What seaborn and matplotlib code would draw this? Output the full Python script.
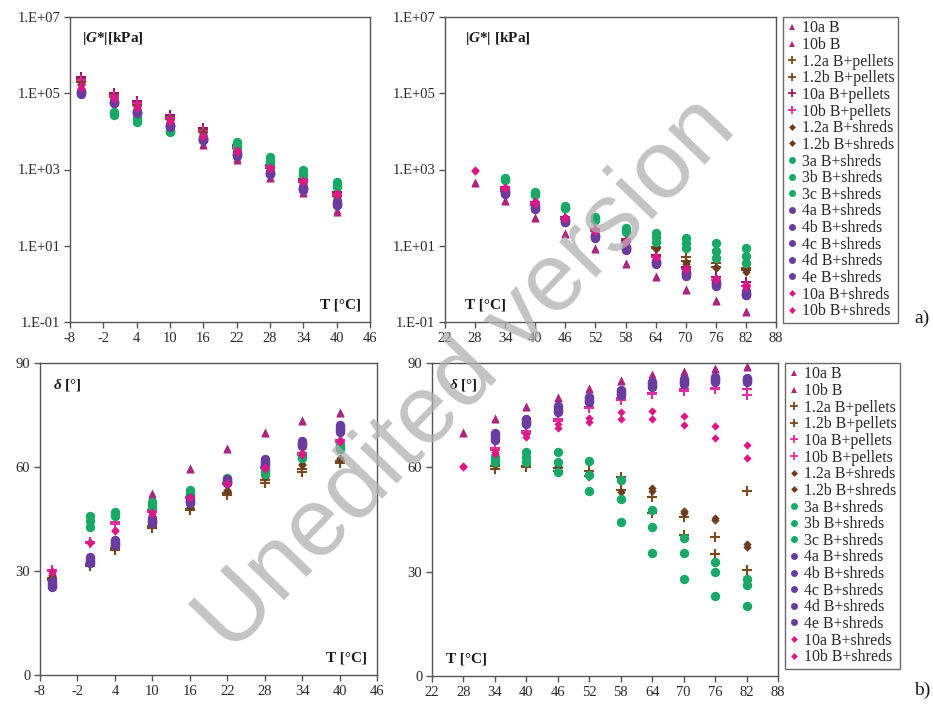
import numpy as np
import pandas as pd
import matplotlib
matplotlib.use("Agg")
import matplotlib.pyplot as plt
import seaborn as sns
from matplotlib.lines import Line2D
from matplotlib.ticker import FixedLocator, FuncFormatter, NullLocator

nan = np.nan

SERIES = [
    "10a B", "10b B",
    "1.2a B+pellets", "1.2b B+pellets", "10a B+pellets", "10b B+pellets",
    "1.2a B+shreds", "1.2b B+shreds",
    "3a B+shreds", "3b B+shreds", "3c B+shreds",
    "4a B+shreds", "4b B+shreds", "4c B+shreds", "4d B+shreds", "4e B+shreds",
    "10a B+shreds", "10b B+shreds",
]

# test temperatures [°C]
T_LOW = [-6, 0, 4, 10, 16, 22, 28, 34, 40]
T_HIGH = [28, 34, 40, 46, 52, 58, 64, 70, 76, 82]

# |G*| [kPa], low-temperature range
G_LOW = {
    "10a B":          [nan, nan, nan, 1.1e4, 4.4e3, 1.8e3, 600, 240, 76],
    "10b B":          [nan, nan, nan, 1.2e4, 4.8e3, 2.0e3, 650, 260, 85],
    "1.2a B+pellets": [2.4e5, 9.5e4, 5.8e4, 2.5e4, 1.1e4, 4.2e3, 1.2e3, 520, 230],
    "1.2b B+pellets": [2.0e5, 8.0e4, 5.0e4, 2.1e4, 9.5e3, 3.6e3, 1.1e3, 460, 200],
    "10a B+pellets":  [2.7e5, 1.0e5, 6.3e4, 2.7e4, 1.2e4, 4.5e3, 1.3e3, 560, 250],
    "10b B+pellets":  [2.2e5, 8.5e4, 5.4e4, 2.3e4, 1.0e4, 3.9e3, 1.15e3, 500, 220],
    "1.2a B+shreds":  [1.8e5, 7.5e4, 4.6e4, 2.0e4, 9.0e3, 3.4e3, 1.0e3, 430, 190],
    "1.2b B+shreds":  [1.7e5, 7.0e4, 4.4e4, 1.9e4, 8.5e3, 3.3e3, 950, 410, 180],
    "3a B+shreds":    [nan, 3.3e4, 2.2e4, 1.05e4, 7.0e3, 5.2e3, 2.1e3, 950, 470],
    "3b B+shreds":    [nan, 3.0e4, 2.0e4, 1.0e4, 6.5e3, 4.7e3, 1.8e3, 830, 400],
    "3c B+shreds":    [nan, 2.7e4, 1.8e4, 9.5e3, 6.0e3, 4.2e3, 1.55e3, 720, 350],
    "4a B+shreds":    [1.1e5, 6.0e4, 3.3e4, 1.45e4, 6.5e3, 2.6e3, 820, 330, 135],
    "4b B+shreds":    [1.0e5, 5.6e4, 3.1e4, 1.35e4, 6.0e3, 2.4e3, 760, 300, 120],
    "4c B+shreds":    [1.15e5, 6.3e4, 3.5e4, 1.5e4, 6.8e3, 2.8e3, 870, 350, 145],
    "4d B+shreds":    [1.05e5, 5.8e4, 3.2e4, 1.4e4, 6.2e3, 2.5e3, 790, 310, 125],
    "4e B+shreds":    [9.8e4, 5.4e4, 3.0e4, 1.3e4, 5.8e3, 2.3e3, 740, 290, 115],
    "10a B+shreds":   [1.6e5, 8.0e4, 4.5e4, 2.0e4, 8.0e3, 3.2e3, 1.15e3, 520, 240],
    "10b B+shreds":   [1.4e5, 7.0e4, 4.0e4, 1.8e4, 7.2e3, 2.9e3, 1.05e3, 470, 220],
}

# |G*| [kPa], high-temperature range
G_HIGH = {
    "10a B":          [470, 160, 56, 21, 8.7, 3.5, 1.6, 0.72, 0.37, 0.19],
    "10b B":          [440, 150, 52, 20, 8.2, 3.3, 1.5, 0.68, 0.35, 0.18],
    "1.2a B+pellets": [nan, 300, 130, 55, 28, 15, 9.5, 5.2, 3.5, 2.6],
    "1.2b B+pellets": [nan, 280, 120, 50, 25, 13, 8.5, 4.0, 2.8, 2.3],
    "10a B+pellets":  [nan, 340, 140, 56, 26, 14, 5.6, 2.8, 1.5, 1.1],
    "10b B+pellets":  [nan, 320, 130, 52, 24, 12.5, 5.0, 2.5, 1.3, 0.9],
    "1.2a B+shreds":  [nan, 290, 125, 52, 26, 14, 8.7, 3.7, 2.8, 2.3],
    "1.2b B+shreds":  [nan, 270, 115, 48, 24, 13, 8.0, 3.4, 2.6, 2.1],
    "3a B+shreds":    [nan, 600, 250, 110, 57, 30, 21, 16, 12, 8.7],
    "3b B+shreds":    [nan, 560, 235, 100, 50, 26, 17, 12, 7.4, 5.5],
    "3c B+shreds":    [nan, 520, 220, 95, 46, 23, 12.6, 8.7, 4.7, 3.5],
    "4a B+shreds":    [nan, 260, 105, 46, 18, 8.8, 3.8, 1.9, 1.05, 0.58],
    "4b B+shreds":    [nan, 240, 98, 43, 17, 8.2, 3.5, 1.75, 0.95, 0.52],
    "4c B+shreds":    [nan, 275, 112, 49, 19.5, 9.5, 4.1, 2.1, 1.15, 0.64],
    "4d B+shreds":    [nan, 250, 100, 44, 17.5, 8.5, 3.6, 1.8, 1.0, 0.55],
    "4e B+shreds":    [nan, 230, 94, 41, 16, 7.8, 3.3, 1.65, 0.9, 0.5],
    "10a B+shreds":   [960, 350, 145, 58, 27, 14.5, 5.3, 2.6, 1.4, 1.0],
    "10b B+shreds":   [900, 310, 128, 50, 23, 12, 4.7, 2.3, 1.25, 0.85],
}

# phase angle δ [°], low-temperature range
D_LOW = {
    "10a B":          [nan, nan, nan, 52.5, 59.7, 65.5, 70.1, 73.5, 75.9],
    "10b B":          [nan, nan, nan, 52.0, 59.3, 65.2, 69.8, 73.2, 75.5],
    "1.2a B+pellets": [27.5, 31.4, 36.0, 42.4, 47.6, 51.9, 55.4, 58.6, 61.1],
    "1.2b B+pellets": [28.0, 32.0, 36.5, 43.0, 48.0, 52.5, 56.2, 59.5, 61.8],
    "10a B+pellets":  [30.3, 38.4, 44.0, 47.6, 51.4, 55.4, 60.0, 64.0, 67.8],
    "10b B+pellets":  [30.0, 38.0, 43.5, 47.0, 51.0, 55.0, 59.6, 63.6, 67.3],
    "1.2a B+shreds":  [28.5, 32.5, 37.0, 43.5, 48.5, 53.0, 57.0, 60.6, 62.0],
    "1.2b B+shreds":  [28.8, 33.0, 37.5, 44.0, 49.0, 53.5, 57.5, 61.0, 62.5],
    "3a B+shreds":    [nan, 46.0, 47.0, 50.0, 53.4, 56.8, 59.1, 63.5, 66.3],
    "3b B+shreds":    [nan, 44.5, 46.5, 49.2, 52.6, 56.2, 58.6, 63.0, 65.8],
    "3c B+shreds":    [nan, 42.8, 46.0, 48.4, 52.0, 55.7, 58.0, 62.5, 65.2],
    "4a B+shreds":    [26.5, 33.5, 38.4, 44.7, 50.5, 56.0, 61.7, 66.9, 71.5],
    "4b B+shreds":    [25.8, 32.5, 37.5, 44.0, 49.8, 55.5, 61.0, 66.3, 70.6],
    "4c B+shreds":    [27.2, 34.0, 38.8, 45.2, 51.0, 56.5, 62.2, 67.5, 72.2],
    "4d B+shreds":    [26.0, 33.0, 38.0, 44.4, 50.2, 55.8, 61.4, 66.6, 71.0],
    "4e B+shreds":    [25.5, 32.3, 37.5, 43.8, 49.6, 55.3, 60.8, 66.0, 70.2],
    "10a B+shreds":   [30.0, 38.4, 41.8, 47.0, 51.4, 55.4, 60.0, 64.0, 67.8],
    "10b B+shreds":   [29.5, 38.0, 41.5, 46.5, 51.0, 55.0, 59.5, 63.6, 67.2],
}

# phase angle δ [°], high-temperature range
D_HIGH = {
    "10a B":          [70.2, 74.3, 77.7, 80.3, 82.7, 85.1, 86.7, 87.8, 88.7, 89.1],
    "10b B":          [70.0, 74.0, 77.4, 80.0, 82.4, 84.8, 86.4, 87.5, 88.4, 88.8],
    "1.2a B+pellets": [nan, 59.5, 60.0, 59.8, 59.0, 57.3, 51.6, 45.6, 39.9, 30.5],
    "1.2b B+pellets": [nan, 60.5, 60.5, 59.0, 57.5, 53.5, 46.8, 40.5, 35.0, 53.2],
    "10a B+pellets":  [nan, 65.5, 70.5, 74.0, 77.4, 80.0, 81.3, 82.4, 82.9, 82.4],
    "10b B+pellets":  [nan, 65.0, 70.0, 73.2, 77.0, 79.5, 81.0, 82.0, 82.4, 80.8],
    "1.2a B+shreds":  [nan, 61.0, 61.5, 60.5, 58.5, 56.5, 54.0, 47.5, 45.5, 38.0],
    "1.2b B+shreds":  [nan, 60.8, 61.2, 60.0, 58.0, 53.0, 53.2, 46.8, 44.8, 37.2],
    "3a B+shreds":    [nan, 63.0, 64.5, 64.5, 61.9, 56.4, 47.8, 39.6, 32.9, 27.8],
    "3b B+shreds":    [nan, 62.3, 63.0, 61.6, 57.8, 50.8, 42.8, 35.3, 30.0, 26.2],
    "3c B+shreds":    [nan, 61.6, 61.6, 58.7, 53.3, 44.2, 35.3, 27.8, 23.1, 20.1],
    "4a B+shreds":    [nan, 69.5, 73.5, 77.0, 79.8, 82.0, 84.2, 85.1, 85.8, 85.3],
    "4b B+shreds":    [nan, 68.5, 72.8, 76.2, 79.0, 81.2, 83.5, 84.3, 85.0, 84.8],
    "4c B+shreds":    [nan, 70.0, 74.0, 77.5, 80.2, 82.3, 84.5, 85.5, 86.0, 85.6],
    "4d B+shreds":    [nan, 68.0, 72.5, 76.0, 78.8, 80.8, 83.2, 83.9, 84.6, 84.6],
    "4e B+shreds":    [nan, 69.0, 73.1, 76.6, 79.4, 81.5, 83.8, 84.6, 85.3, 85.0],
    "10a B+shreds":   [60.4, 64.5, 69.5, 72.5, 74.2, 76.0, 76.2, 74.8, 71.9, 66.4],
    "10b B+shreds":   [60.2, 63.8, 68.8, 71.3, 73.1, 73.8, 73.8, 72.2, 68.5, 62.6],
}

X_TICKS_LOW = [-8, -2, 4, 10, 16, 22, 28, 34, 40, 46]
X_TICKS_HIGH = [22, 28, 34, 40, 46, 52, 58, 64, 70, 76, 82, 88]
G_TICKS = [1e-1, 1e1, 1e3, 1e5, 1e7]
D_TICKS = [0, 30, 60, 90]

# marker shape per series
MARKER = {}
for n in SERIES:
    if n.endswith(" B"):
        MARKER[n] = "^"
    elif "pellets" in n:
        MARKER[n] = "+"
    elif n.startswith("1.2") or n.startswith("10"):
        MARKER[n] = "D"
    else:
        MARKER[n] = "o"

C_TRI = "#a8287f"
C_BROWN_P = "#7a4a1e"
C_BROWN_S = "#6b3b1c"
C_GREEN = "#19a866"
C_PURPLE = "#6a3c9e"
C_MAG = "#d91a86"


def colours(row):
    c = {}
    for n in SERIES:
        if n.endswith(" B"):
            c[n] = C_TRI
        elif n.startswith("1.2") and "pellets" in n:
            c[n] = C_BROWN_P
        elif n.startswith("1.2"):
            c[n] = C_BROWN_S
        elif n.startswith("3"):
            c[n] = C_GREEN
        elif n.startswith("4"):
            c[n] = C_PURPLE
        else:
            c[n] = C_MAG
    if row == "top":
        c["10a B+pellets"] = "#8e1c62"
        c["10b B+pellets"] = "#e0289c"
    else:
        c["10a B+pellets"] = "#e0309f"
        c["10b B+pellets"] = "#e0309f"
    return c


SIZE = {"^": 34, "+": 48, "D": 18, "o": 46}

sns.set_style("ticks")
plt.rcParams["font.family"] = ["Liberation Serif", "DejaVu Serif"]
plt.rcParams["axes.unicode_minus"] = False
plt.rcParams["mathtext.fontset"] = "custom"
plt.rcParams["mathtext.rm"] = "Liberation Serif"
plt.rcParams["mathtext.it"] = "Liberation Serif:italic"
plt.rcParams["mathtext.bf"] = "Liberation Serif:bold"
plt.rcParams["mathtext.bfit"] = "Liberation Serif:bold:italic"

W, H = 933, 708
fig = plt.figure(figsize=(W / 100, H / 100), dpi=100)


def px_axes(x0, y0, x1, y1):
    return fig.add_axes([x0 / W, 1 - y1 / H, (x1 - x0) / W, (y1 - y0) / H])


ax_ga = px_axes(70, 17, 370, 322)
ax_gb = px_axes(445, 17, 776, 322)
ax_da = px_axes(40, 363, 377, 675)
ax_db = px_axes(432, 363, 778, 676)


def draw(ax, temps, table, cols):
    for name in SERIES:
        df = pd.DataFrame({"T": temps, "v": table[name]}).dropna()
        m = MARKER[name]
        kw = dict(s=SIZE[m], marker=m, color=cols[name], legend=False, ax=ax)
        if m == "+":
            kw["linewidth"] = 1.5
        else:
            kw["linewidth"] = 0
        sns.scatterplot(data=df, x="T", y="v", **kw)


def frame(ax, xticks):
    ax.set_xlim(xticks[0], xticks[-1])
    ax.xaxis.set_major_locator(FixedLocator(xticks))
    for sp in ax.spines.values():
        sp.set_visible(True)
        sp.set_color("#555555")
        sp.set_linewidth(1.0)
    ax.tick_params(direction="out", length=4, width=1, colors="#555555",
                   labelcolor="#2a2a2a", labelsize=10.5, pad=3)
    ax.set_xlabel("")
    ax.set_ylabel("")


top_cols = colours("top")
bot_cols = colours("bottom")

draw(ax_ga, T_LOW, G_LOW, top_cols)
draw(ax_gb, T_HIGH, G_HIGH, top_cols)
draw(ax_da, T_LOW, D_LOW, bot_cols)
draw(ax_db, T_HIGH, D_HIGH, bot_cols)

exp_fmt = FuncFormatter(lambda v, p: "1.E{:+03d}".format(int(round(np.log10(v)))))
for ax, xt in ((ax_ga, X_TICKS_LOW), (ax_gb, X_TICKS_HIGH)):
    ax.set_yscale("log")
    ax.set_ylim(G_TICKS[0], G_TICKS[-1])
    ax.yaxis.set_major_locator(FixedLocator(G_TICKS))
    ax.yaxis.set_major_formatter(exp_fmt)
    ax.yaxis.set_minor_locator(NullLocator())
    frame(ax, xt)

for ax, xt in ((ax_da, X_TICKS_LOW), (ax_db, X_TICKS_HIGH)):
    ax.set_ylim(D_TICKS[0], D_TICKS[-1])
    ax.yaxis.set_major_locator(FixedLocator(D_TICKS))
    frame(ax, xt)

lab = dict(fontsize=11, fontweight="bold", color="#1a1a1a")
ax_ga.text(0.04, 0.93, r"|$\mathbfit{G}$*|[kPa]", transform=ax_ga.transAxes, va="center", **lab)
ax_gb.text(0.06, 0.93, r"|$\mathbfit{G}$*| [kPa]", transform=ax_gb.transAxes, va="center", **lab)
ax_ga.text(0.97, 0.055, "T [°C]", transform=ax_ga.transAxes, ha="right", va="center", **lab)
ax_gb.text(0.06, 0.055, "T [°C]", transform=ax_gb.transAxes, va="center", **lab)
ax_da.text(0.04, 0.93, r"$\mathbfit{δ}$ [°]", transform=ax_da.transAxes, va="center", **lab)
ax_db.text(0.05, 0.93, r"$\mathbfit{δ}$ [°]", transform=ax_db.transAxes, va="center", **lab)
ax_da.text(0.97, 0.055, "T [°C]", transform=ax_da.transAxes, ha="right", va="center", **lab)
ax_db.text(0.04, 0.055, "T [°C]", transform=ax_db.transAxes, va="center", **lab)


def legend_at(x, y, cols):
    handles = []
    for n in SERIES:
        m = MARKER[n]
        ms = {"^": 5, "+": 6, "D": 3.5, "o": 5}[m]
        handles.append(Line2D([], [], linestyle="none", marker=m, markersize=ms,
                              color=cols[n], markeredgewidth=1.3 if m == "+" else 0))
    leg = fig.legend(handles, SERIES, loc="upper left", bbox_to_anchor=(x / W, 1 - y / H),
                     frameon=True, fancybox=False, fontsize=11.4, handlelength=0.7,
                     handletextpad=0.25, labelspacing=0.04, borderpad=0.22,
                     borderaxespad=0)
    leg.get_frame().set_edgecolor("#444444")
    leg.get_frame().set_linewidth(1.0)
    for t in leg.get_texts():
        t.set_color("#2a2a2a")
    return leg


legend_at(783, 17, top_cols)
legend_at(785, 363, bot_cols)

fig.text(914 / W, 1 - 318 / H, "a)", fontsize=14, va="center", color="#1a1a1a")
fig.text(914 / W, 1 - 690 / H, "b)", fontsize=14, va="center", color="#1a1a1a")

# diagonal "Unedited version" stamp across the figure
fig.text(0.5, 0.47, "Unedited version", rotation=46, fontsize=70, color="#b0b0b0",
         alpha=0.75, ha="center", va="center", family="Liberation Sans", zorder=100,
         rotation_mode="anchor")

fig.savefig("out.png", dpi=100)
